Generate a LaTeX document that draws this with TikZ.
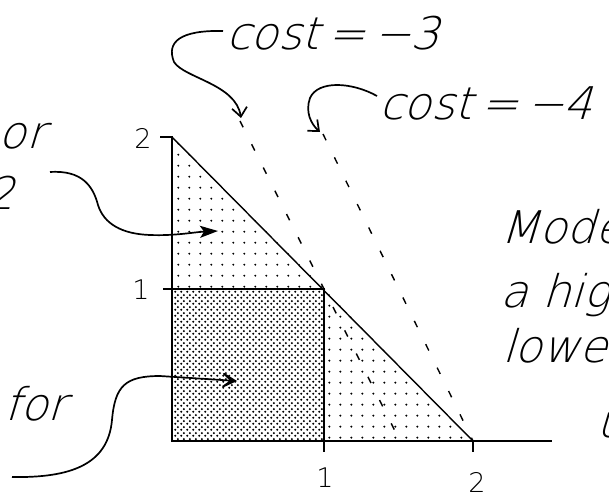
\documentclass[tikz,border=0pt]{standalone}
\usepackage{fontspec}
\usetikzlibrary{arrows.meta,patterns}
\IfFontExistsTF{DejaVuSans-ExtraLight.ttf}
 {\newfontfamily\hand{DejaVuSans-ExtraLight.ttf}[FakeSlant=0.3]
  \newfontfamily\axfont{DejaVuSans-ExtraLight.ttf}}
 {\newfontfamily\hand{DejaVu Sans}[FakeSlant=0.3]
  \newfontfamily\axfont{DejaVu Sans}}
\pgfdeclarepatternformonly{sparsedots}{\pgfpointorigin}{\pgfpoint{10.8pt}{10.8pt}}{\pgfpoint{10.8pt}{10.8pt}}{\pgfpathcircle{\pgfpoint{5.4pt}{5.4pt}}{1.1pt}\pgfusepath{fill}}
\pgfdeclarepatternformonly{densedots}{\pgfpointorigin}{\pgfpoint{6pt}{6pt}}{\pgfpoint{6pt}{6pt}}{\pgfpathcircle{\pgfpoint{1.5pt}{1.5pt}}{1.3pt}\pgfpathcircle{\pgfpoint{4.5pt}{4.5pt}}{1.3pt}\pgfusepath{fill}}
\begin{document}
\begin{tikzpicture}[x=1pt,y=-1pt,
  axisline/.style={line width=1.9pt},
  diagline/.style={line width=1.4pt},
  dashline/.style={line width=1.4pt,dash pattern=on 7pt off 19pt},
  curvearrow/.style={line width=1.7pt,-{Straight Barb[length=9pt,width=15pt]}},
  bigarrow/.style={line width=1.7pt,-{Stealth[length=22pt,width=24pt,inset=15pt]}},
  halfarrow/.style={line width=1.7pt,-{Stealth[length=18pt,width=12pt,inset=4pt]}},
  handtext/.style={inner sep=0pt,font=\hand\fontsize{45}{50}\selectfont},
  axlabel/.style={inner sep=0pt,font=\axfont\fontsize{27}{30}\selectfont}]
\useasboundingbox (0,0) rectangle (609,497);
% frame points
\coordinate (O) at (172,441);
\coordinate (Y1) at (172,289);
\coordinate (Y2) at (172,137);
\coordinate (X1) at (324,441);
\coordinate (X2) at (473,441);
\coordinate (C) at (324,289);
\coordinate (Xend) at (552,441);
\coordinate (Y2t) at (160,137);
\coordinate (Y1t) at (163,289);
\coordinate (X1t) at (324,452);
\coordinate (X2t) at (473,452);
\coordinate (D3a) at (240,121);
\coordinate (D3b) at (400,441);
\coordinate (D4a) at (323,134);
% regions
\fill[pattern=sparsedots] (Y2) -- (C) -- (Y1) -- cycle;
\fill[pattern=sparsedots] (C) -- (X2) -- (X1) -- cycle;
\fill[pattern=densedots] (Y1) rectangle (X1);
% cost lines
\draw[dashline] (D3a) -- (D3b);
\draw[dashline] (D4a) -- (X2);
\draw[diagline] (Y2) -- (X2);
% axes
\draw[axisline] (Y2t) -- (Y2) -- (O) -- (Xend);
\draw[axisline] (Y1t) -- (C) -- (X1t);
\draw[axisline] (X2) -- (X2t);
% axis labels
\node[axlabel] (ly2) at (143,138) {2};
\node[axlabel] (ly1) at (141,290) {1};
\node[axlabel] (lx1) at (325,478) {1};
\node[axlabel] (lx2) at (477,482) {2};
% texts
\node[handtext,anchor=base west] (cost3) at (226,50) {cost\kern8pt=\kern8pt−3};
\node[handtext,anchor=base west] (cost4) at (379,120) {cost\kern8pt=\kern8pt−4};
\node[handtext,anchor=base east] (tor) at (45,148) {or};
\node[handtext,anchor=base east] (ttwo) at (14,209) {2};
\node[handtext,anchor=base west] (tfor) at (4,420) {for};
\node[handtext,anchor=base west] (tmode) at (500,243) {Mode};
\node[handtext,anchor=base west] (thig) at (500,307) {a hig};
\node[handtext,anchor=base west] (tlowe) at (502,362) {lowe};
\node[handtext,anchor=base west] (tu) at (596,437) {u};
% arrows
\coordinate (s3) at (223,31);
\coordinate (t3) at (241,118);
\draw[curvearrow] (s3) .. controls (180,30) and (166,42) .. (174,62)
  .. controls (184,78) and (236,84) .. (t3);
\coordinate (s4) at (377,96);
\coordinate (t4) at (320,132);
\draw[curvearrow] (s4) .. controls (352,82) and (318,80) .. (310,98)
  .. controls (305,112) and (311,124) .. (t4);
\coordinate (s2) at (50,172);
\coordinate (t2) at (218,231);
\draw[halfarrow] (s2) .. controls (82,170) and (93,186) .. (98,205)
  .. controls (104,224) and (122,234) .. (150,235)
  .. controls (175,236) and (195,232) .. (t2);
\coordinate (sf) at (12,477);
\coordinate (tf) at (237,381);
\draw[bigarrow] (sf) .. controls (70,478) and (108,465) .. (112,420)
  .. controls (115,386) and (125,376) .. (160,376) -- (tf);
\end{tikzpicture}
\end{document}
